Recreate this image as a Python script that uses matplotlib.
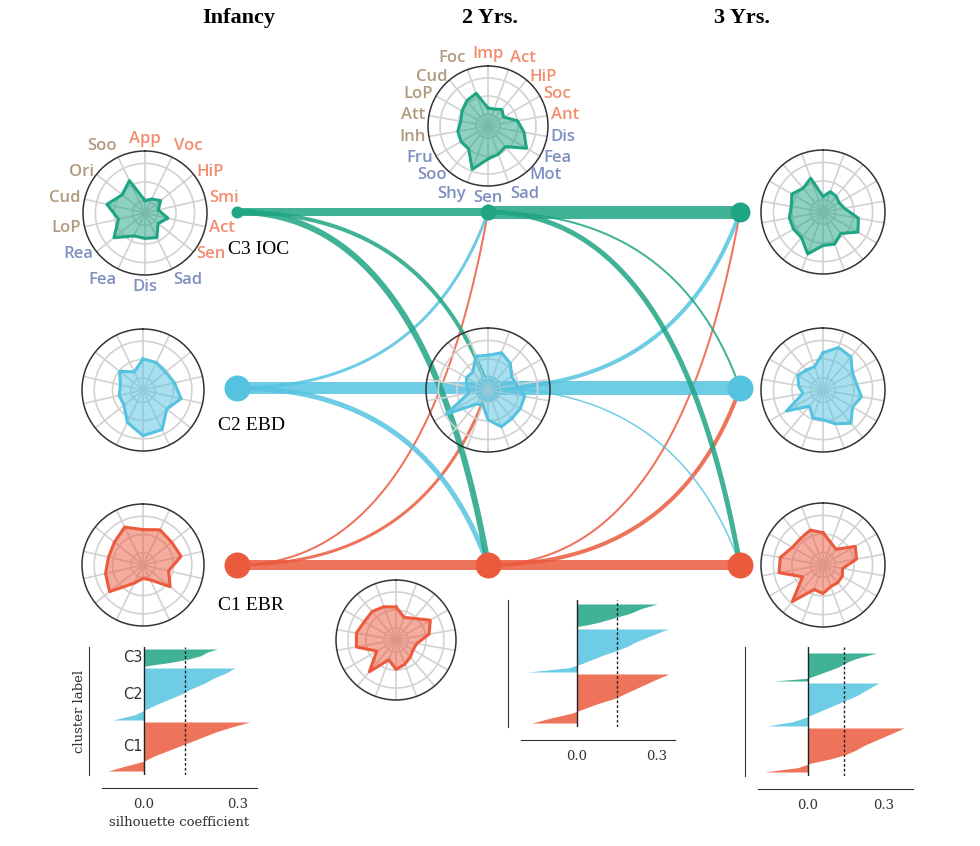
import numpy as np
import matplotlib.pyplot as plt

W, H = 980, 846
fig = plt.figure(figsize=(W / 100, H / 100), dpi=100)

green = '#1fa584'
blue = '#55c3e0'
red = '#ec5a3e'
clus_colors = [red, blue, green]          # C1, C2, C3
label_colors = {'s': '#f28d6e', 'n': '#7f8fc0', 'r': '#b09a7e'}

# ---- data ----
infancy_scales = ['App', 'Voc', 'HiP', 'Smi', 'Act', 'Sen', 'Sad', 'Dis', 'Fea', 'Rea', 'LoP', 'Cud', 'Ori', 'Soo']
infancy_groups = ['s'] * 6 + ['n'] * 4 + ['r'] * 4
toddler_scales = ['Imp', 'Act', 'HiP', 'Soc', 'Ant', 'Dis', 'Fea', 'Mot', 'Sad', 'Sen', 'Shy', 'Soo', 'Fru',
                  'Inh', 'Att', 'LoP', 'Cud', 'Foc']
toddler_groups = ['s'] * 5 + ['n'] * 8 + ['r'] * 5

# radar profiles (C1, C2, C3)
inf_c1 = [0.58, 0.64, 0.60, 0.64, 0.43, 0.57, 0.27, 0.22, 0.33, 0.70, 0.63, 0.58, 0.60, 0.69]
inf_c2 = [0.51, 0.50, 0.47, 0.53, 0.64, 0.50, 0.72, 0.75, 0.59, 0.40, 0.40, 0.38, 0.49, 0.33]
inf_c3 = [0.20, 0.25, 0.32, 0.22, 0.38, 0.27, 0.44, 0.41, 0.41, 0.64, 0.44, 0.63, 0.47, 0.58]

y2_c1 = [0.55, 0.40, 0.47, 0.66, 0.56, 0.35, 0.33, 0.37, 0.43, 0.49, 0.35, 0.69, 0.37, 0.67, 0.67, 0.61, 0.62, 0.59]
y2_c2 = [0.56, 0.64, 0.56, 0.44, 0.47, 0.60, 0.60, 0.60, 0.63, 0.48, 0.25, 0.30, 0.78, 0.32, 0.35, 0.40, 0.38, 0.58]
y2_c3 = [0.30, 0.30, 0.36, 0.30, 0.50, 0.61, 0.74, 0.45, 0.50, 0.55, 0.77, 0.50, 0.52, 0.51, 0.46, 0.50, 0.55, 0.58]

y3_c1 = [0.52, 0.38, 0.33, 0.60, 0.55, 0.32, 0.36, 0.37, 0.37, 0.46, 0.42, 0.77, 0.38, 0.72, 0.70, 0.57, 0.56, 0.60]
y3_c2 = [0.60, 0.73, 0.70, 0.55, 0.55, 0.63, 0.55, 0.70, 0.58, 0.48, 0.48, 0.34, 0.68, 0.33, 0.40, 0.47, 0.42, 0.40]
y3_c3 = [0.25, 0.35, 0.33, 0.30, 0.35, 0.58, 0.65, 0.45, 0.55, 0.54, 0.72, 0.54, 0.55, 0.55, 0.52, 0.58, 0.50, 0.58]

# transitions between clusters (rows: from C1, C2, C3; cols: to C1, C2, C3)
trans_inf_2y = [[10, 3, 2], [5, 12, 3], [6, 4, 8]]
trans_2y_3y = [[10, 4, 2], [1.5, 14, 4], [5, 2, 13]]

# silhouette values, sorted from lowest to highest within each cluster (C1, C2, C3)
sil_inf = [[-0.115, -0.06, 0.0, 0.03, 0.07, 0.11, 0.15, 0.19, 0.23, 0.28, 0.337],
           [-0.099, -0.03, 0.005, 0.04, 0.08, 0.12, 0.15, 0.19, 0.22, 0.26, 0.289],
           [0.005, 0.04, 0.08, 0.11, 0.14, 0.16, 0.18, 0.19, 0.20, 0.215, 0.234]]
sil_2y = [[-0.169, -0.10, -0.02, 0.03, 0.08, 0.14, 0.18, 0.22, 0.26, 0.30, 0.344],
          [-0.185, -0.03, 0.02, 0.06, 0.10, 0.15, 0.19, 0.22, 0.26, 0.30, 0.34],
          [-0.012, 0.04, 0.08, 0.11, 0.14, 0.17, 0.20, 0.22, 0.24, 0.27, 0.30]]
sil_3y = [[-0.174, -0.04, 0.01, 0.09, 0.15, 0.19, 0.22, 0.26, 0.30, 0.34, 0.38],
          [-0.162, -0.06, -0.01, 0.03, 0.07, 0.11, 0.15, 0.19, 0.22, 0.25, 0.28],
          [-0.135, 0.0, 0.03, 0.06, 0.09, 0.12, 0.14, 0.16, 0.19, 0.23, 0.27]]
size_inf = [49, 52, 17]
size_2y = [49, 43, 23]
size_3y = [44, 43, 28]
mean_inf, mean_2y, mean_3y = 0.131, 0.15, 0.142

# ---- layout ----
col_x = [237, 488, 740]
row_y = [565, 388, 212]

bg = fig.add_axes([0, 0, 1, 1])
bg.set_xlim(0, W)
bg.set_ylim(H, 0)
bg.axis('off')


def flow(x0, y0, x1, y1, color, lw):
    # quadratic bezier: leaves horizontally, bends towards the target
    t = np.linspace(0, 1, 80)
    cx = x0 + 0.75 * (x1 - x0)
    bx = (1 - t) ** 2 * x0 + 2 * t * (1 - t) * cx + t ** 2 * x1
    by = (1 - t) ** 2 * y0 + 2 * t * (1 - t) * y0 + t ** 2 * y1
    bg.plot(bx, by, color=color, lw=lw * 0.72, alpha=0.85, solid_capstyle='butt')


for k, trans in enumerate([trans_inf_2y, trans_2y_3y]):
    for i in range(3):
        for j in range(3):
            flow(col_x[k], row_y[i], col_x[k + 1], row_y[j], clus_colors[i], trans[i][j])

node_d = [[26, 26, 12], [26, 26, 16], [26, 26, 20]]
for k in range(3):
    for i in range(3):
        bg.plot(col_x[k], row_y[i], 'o', color=clus_colors[i], ms=node_d[k][i] * 0.72, mec='none', zorder=5)

for x, t in zip(col_x, ['Infancy', '2 Yrs.', '3 Yrs.']):
    bg.text(x + 2, 18, t, ha='center', va='center', fontsize=16, fontweight='bold', family='Liberation Serif')

for y, t in zip([605, 425, 250], ['C1 EBR', 'C2 EBD', 'C3 IOC']):
    bg.text(218 if y != 250 else 228, y, t, ha='left', va='center', fontsize=14, family='Liberation Serif')


def radar(cx, cy, r, labels, groups, values, color, show_labels):
    ax = fig.add_axes([(cx - r) / W, 1 - (cy + r) / H, 2 * r / W, 2 * r / H], projection='polar')
    n = len(labels)
    theta = np.linspace(0, 2 * np.pi, n, endpoint=False)
    ax.set_theta_zero_location('N')
    ax.set_theta_direction(-1)
    ax.set_ylim(0, 1)
    ax.set_xticks(theta)
    ax.set_xticklabels([])
    ax.set_yticks([0.2, 0.5, 0.8])
    ax.set_yticklabels([])
    ax.grid(color='#d2d2d2', lw=1.2)
    ax.spines['polar'].set_color('#333333')
    ax.spines['polar'].set_linewidth(1.1)
    ax.patch.set_alpha(0)
    tt = np.append(theta, theta[0])
    vv = np.append(values, values[0])
    ax.fill(tt, vv, color=color, alpha=0.5, lw=0, zorder=3)
    ax.plot(tt, vv, color=color, lw=2.2, zorder=4)
    if show_labels:
        for th, lab, g in zip(theta, labels, groups):
            s, c = np.sin(th), np.cos(th)
            ha = 'left' if s > 0.2 else ('right' if s < -0.2 else 'center')
            va = 'bottom' if c > 0.85 else ('top' if c < -0.85 else 'center')
            ax.text(th, 1.06, lab, color=label_colors[g], ha=ha, va=va,
                    fontsize=12, fontweight='semibold', family='Open Sans')


radar(145, 213, 62, infancy_scales, infancy_groups, inf_c3, green, True)
radar(143, 390, 61, infancy_scales, infancy_groups, inf_c2, blue, False)
radar(143, 565, 61, infancy_scales, infancy_groups, inf_c1, red, False)
radar(488, 126, 60, toddler_scales, toddler_groups, y2_c3, green, True)
radar(488, 390, 62, toddler_scales, toddler_groups, y2_c2, blue, False)
radar(396, 640, 60, toddler_scales, toddler_groups, y2_c1, red, False)
radar(823, 212, 62, toddler_scales, toddler_groups, y3_c3, green, False)
radar(823, 390, 62, toddler_scales, toddler_groups, y3_c2, blue, False)
radar(823, 565, 62, toddler_scales, toddler_groups, y3_c1, red, False)


def silhouette(x0, x1, y0, y1, xlim, vals, sizes, mean, full):
    ax = fig.add_axes([x0 / W, 1 - y1 / H, (x1 - x0) / W, (y1 - y0) / H])
    y_lower = 4
    for v, n, c, name in zip(vals, sizes, clus_colors, ['C1', 'C2', 'C3']):
        y = np.linspace(y_lower, y_lower + n, len(v))
        ax.fill_betweenx(y, 0, v, color=c, alpha=0.85, lw=0)
        if full:
            ax.text(-0.035, y_lower + n / 2, name, ha='center', va='center', fontsize=10.5, color='#333333')
        y_lower += n + 2
    ax.set_xlim(*xlim)
    ax.set_ylim(0, y1 - y0)
    ax.axvline(0, color='#222222', lw=1)
    ax.axvline(mean, color='#222222', lw=1, ls=(0, (2, 1.5)))
    for s in ['top', 'right']:
        ax.spines[s].set_visible(False)
    for s in ['left', 'bottom']:
        ax.spines[s].set_position(('outward', 9.4))
        ax.spines[s].set_color('#333333')
    ax.set_yticks([])
    ax.set_xticks([0, 0.3])
    ax.set_xticklabels(['0.0', '0.3'], family='DejaVu Serif', fontsize=9.5, color='#333333')
    ax.tick_params(axis='x', length=0, pad=7)
    ax.patch.set_alpha(0)
    if full:
        ax.set_ylabel('cluster label', family='DejaVu Serif', fontsize=9.5, color='#333333', labelpad=2)
        ax.set_xlabel('silhouette coefficient', family='DejaVu Serif', fontsize=9.5, color='#333333', labelpad=4)


silhouette(102, 257, 647, 775, (-0.134, 0.36), sil_inf, size_inf, mean_inf, True)
silhouette(521, 675, 600, 727, (-0.21, 0.367), sil_2y, size_2y, mean_2y, False)
silhouette(758, 913, 647, 776, (-0.198, 0.415), sil_3y, size_3y, mean_3y, False)

fig.savefig('out.png', dpi=100)
